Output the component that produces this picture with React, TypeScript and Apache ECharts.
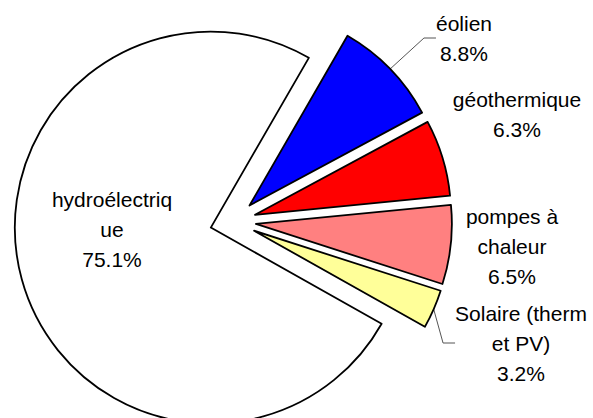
import React, { useEffect, useRef } from 'react';
import * as echarts from 'echarts';

// Shares of renewable energy sources (percent)
const categories = ['hydroélectrique', 'éolien', 'géothermique', 'pompes à chaleur', 'Solaire (therm et PV)'];
const labelTexts = ['hydroélectriq\nue', 'éolien', 'géothermique', 'pompes à\nchaleur', 'Solaire (therm\net PV)'];
const shares = [75.1, 8.8, 6.3, 6.5, 3.2];
const colors = ['#FFFFFF', '#0000FF', '#FF0000', '#FF8080', '#FFFF99'];
const leaderShown = [false, true, false, false, true];
const insideLabel = [true, false, false, false, false];

// label block centres in pixels
const labelAnchors: number[][] = [
  [112, 229],
  [464, 38],
  [517, 114],
  [512, 246],
  [521, 343],
];

const FONT = '"Liberation Sans", Arial, sans-serif';
const CENTER = [233, 221.5];
const RADIUS = 196;
const EXPLODE = 23;

const textStyle = {
  color: '#000000',
  fontFamily: FONT,
  fontSize: 21,
  lineHeight: 30,
  align: 'center',
};

export default function App() {
  const ref = useRef<HTMLDivElement>(null);

  useEffect(() => {
    if (!ref.current) return;
    const chart = echarts.init(ref.current, null, { renderer: 'svg' });
    const total = shares.reduce((a, b) => a + b, 0);
    // the first wedge ends (clockwise) at 60 degrees
    const startAngle = 60 + (360 * shares[0]) / total;

    // every wedge is drawn by its own pie, pushed out along its bisector
    let cum = 0;
    const series = shares.map((v, k) => {
      const mid = startAngle - (360 * (cum + v / 2)) / total;
      cum += v;
      const rad = (mid * Math.PI) / 180;
      const cx = CENTER[0] + EXPLODE * Math.cos(rad);
      const cy = CENTER[1] - EXPLODE * Math.sin(rad);
      return {
        type: 'pie',
        center: [cx, cy],
        radius: [0, RADIUS],
        startAngle,
        clockwise: true,
        silent: true,
        avoidLabelOverlap: false,
        emphasis: { disabled: true },
        label: {
          ...textStyle,
          rich: { t: textStyle },
        },
        labelLine: {
          length: 30,
          length2: 12,
          lineStyle: { color: '#555555', width: 1 },
        },
        labelLayout: (params: any) => {
          const p = labelAnchors[params.dataIndex];
          if (insideLabel[params.dataIndex]) {
            // inside labels keep their own alignment and are only shifted
            const r = params.labelRect;
            return {
              dx: p[0] - (r.x + r.width / 2),
              dy: p[1] - (r.y + r.height / 2),
            };
          }
          return { x: p[0], y: p[1], align: 'center', verticalAlign: 'middle' };
        },
        data: categories.map((name, i) => ({
          name,
          value: shares[i],
          itemStyle:
            i === k
              ? { color: colors[i], borderColor: '#000000', borderWidth: 1.8 }
              : { color: 'rgba(0,0,0,0)', borderWidth: 0 },
          label: {
            show: i === k,
            position: insideLabel[i] ? 'inside' : 'outside',
            formatter: () =>
              [...labelTexts[i].split('\n'), `${shares[i].toFixed(1)}%`]
                .map((line) => `{t|${line}}`)
                .join('\n'),
          },
          labelLine: { show: i === k && leaderShown[i] },
        })),
      };
    });

    chart.setOption({
      animation: false,
      backgroundColor: '#FFFFFF',
      series,
    });
    return () => chart.dispose();
  }, []);

  return (
    <div
      ref={ref}
      style={{ position: 'fixed', left: 0, top: 0, width: 593, height: 418 }}
    />
  );
}
